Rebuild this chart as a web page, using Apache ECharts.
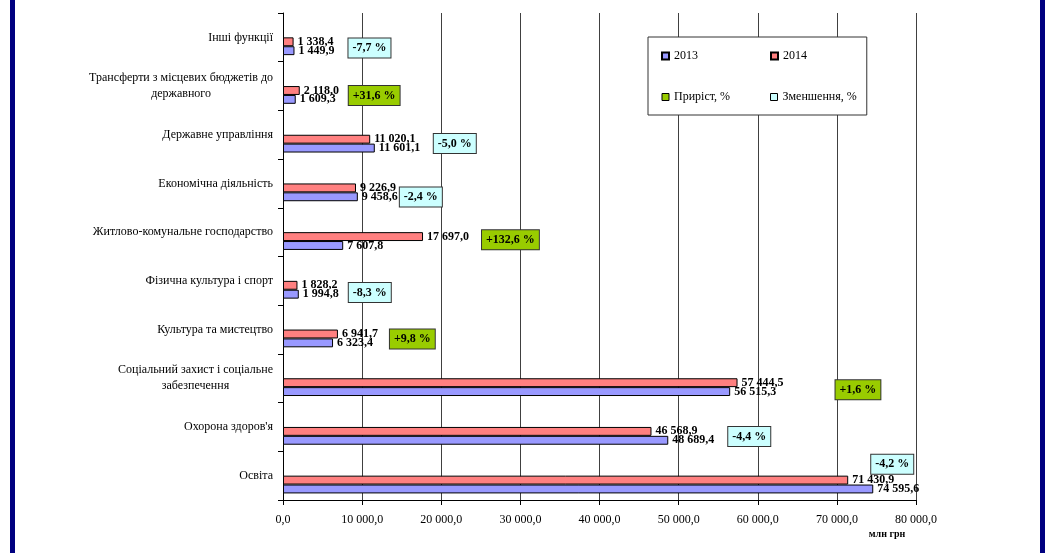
<!DOCTYPE html>
<html>
<head>
<meta charset="utf-8">
<script src="https://cdn.jsdelivr.net/npm/echarts@6/dist/echarts.min.js"></script>
<style>
html, body { margin: 0; padding: 0; background: #fff; }
#wrap { position: relative; width: 1050px; height: 553px; background: #fff; overflow: hidden; }
.edge { position: absolute; top: 0; width: 5px; height: 553px; background: #000080; }
#chart { position: absolute; left: 0; top: 0; width: 1050px; height: 553px; }
</style>
</head>
<body>
<div id="wrap">
    <div class="edge" style="left:10px"></div>
    <div class="edge" style="left:1040px"></div>
    <div id="chart"></div>
</div>
<script>
// categories from bottom to top
const categories = [
    'Освіта',
    "Охорона здоров'я",
    'Соціальний захист і соціальне\nзабезпечення',
    'Культура та мистецтво',
    'Фізична культура і спорт',
    'Житлово-комунальне господарство',
    'Економічна діяльність',
    'Державне управління',
    'Трансферти з місцевих бюджетів до\nдержавного',
    'Інші функції'
];
const values2013 = [74595.6, 48689.4, 56515.3, 6323.4, 1994.8, 7607.8, 9458.6, 11601.1, 1609.3, 1449.9];
const values2014 = [71430.9, 46568.9, 57444.5, 6941.7, 1828.2, 17697.0, 9226.9, 11020.1, 2118.0, 1338.4];
const changePct = [-4.2, -4.4, 1.6, 9.8, -8.3, 132.6, -2.4, -5.0, 31.6, -7.7];
const axisMin = 0, axisMax = 80000, axisStep = 10000;

// where the % boxes sit, in px from the end of the longer bar
const pctShift = [[-2, 2], [60, 23], [98, 16], [52, 14], [50, 25], [59, 12], [42, 27], [59, 22], [49, 14], [54, 24]];

const serif = 'Liberation Serif, Times New Roman, serif';

function fmtNum(v) {
    let s = v.toFixed(1).split('.');
    let intPart = s[0].replace(/\B(?=(\d{3})+(?!\d))/g, ' ');
    return intPart + ',' + s[1];
}
function fmtPct(v) {
    return (v > 0 ? '+' : '') + v.toFixed(1).replace('.', ',') + ' %';
}

function pctData(positive) {
    return categories.map((c, i) => {
        if ((changePct[i] > 0) !== positive) return '-';
        return {
            value: Math.max(values2013[i], values2014[i]),
            label: { offset: pctShift[i] }
        };
    });
}

const pctLabel = (bg) => ({
    show: true,
    position: 'right',
    distance: 0,
    formatter: p => fmtPct(changePct[p.dataIndex]),
    fontFamily: serif,
    fontSize: 12,
    fontWeight: 'bold',
    color: '#000',
    backgroundColor: bg,
    borderColor: '#333',
    borderWidth: 1,
    padding: [3, 4, 3, 4],
    lineHeight: 13
});

const valueLabel = {
    show: true,
    position: 'right',
    distance: 4,
    formatter: p => fmtNum(p.value),
    fontFamily: serif,
    fontSize: 12,
    fontWeight: 'bold',
    color: '#000'
};

const chart = echarts.init(document.getElementById('chart'));
chart.setOption({
    animation: false,
    backgroundColor: 'transparent',
    grid: { left: 283, right: 134, top: 13, bottom: 53 },
    legend: {
        left: 648,
        top: 37,
        orient: 'horizontal',
        width: 200,
        padding: [12, 10, 11, 13],
        itemGap: 27,
        itemWidth: 7,
        itemHeight: 7,
        icon: 'rect',
        backgroundColor: '#fff',
        borderColor: '#333',
        borderWidth: 1,
        borderRadius: 0,
        textStyle: { fontFamily: serif, fontSize: 12, color: '#000', width: 69, lineHeight: 14 },
        data: [
            { name: '2013' },
            { name: '2014' },
            { name: 'Приріст, %', itemStyle: { color: '#99cc00', borderColor: '#000', borderWidth: 1 } },
            { name: 'Зменшення, %', itemStyle: { color: '#ccffff', borderColor: '#000', borderWidth: 1 } }
        ]
    },
    xAxis: {
        type: 'value',
        min: axisMin,
        max: axisMax,
        interval: axisStep,
        name: 'млн грн',
        nameLocation: 'end',
        nameGap: -29,
        nameTextStyle: {
            fontFamily: serif, fontSize: 10, fontWeight: 'bold', color: '#000',
            align: 'center', verticalAlign: 'top', padding: [29, 0, 0, 0]
        },
        axisLine: { show: true, lineStyle: { color: '#000', width: 1 } },
        axisTick: { show: true, length: 5, lineStyle: { color: '#000' } },
        axisLabel: { margin: 14, fontFamily: serif, fontSize: 12, color: '#000', formatter: v => fmtNum(v) },
        splitLine: { show: true, lineStyle: { color: '#404040', width: 1 } }
    },
    yAxis: {
        type: 'category',
        data: categories,
        axisLine: { show: true, lineStyle: { color: '#000', width: 1 } },
        axisTick: { show: true, length: 5, alignWithLabel: false, lineStyle: { color: '#000' } },
        axisLabel: {
            margin: 10,
            color: '#000',
            fontFamily: serif,
            fontSize: 12,
            formatter: v => v.split('\n').map(s => '{c|' + s + '}').join('\n'),
            rich: { c: { align: 'center', fontFamily: serif, fontSize: 12, color: '#000', lineHeight: 16 } }
        },
        splitLine: { show: false }
    },
    series: [
        {
            name: 'Зменшення, %',
            type: 'bar',
            barGap: '0%',
            barCategoryGap: '27%',
            itemStyle: { color: 'rgba(0,0,0,0)' },
            label: pctLabel('#ccffff'),
            data: pctData(false),
            z: 5
        },
        {
            name: 'Приріст, %',
            type: 'bar',
            itemStyle: { color: 'rgba(0,0,0,0)' },
            label: pctLabel('#99cc00'),
            data: pctData(true),
            z: 5
        },
        {
            name: '2014',
            type: 'bar',
            itemStyle: { color: '#ff8080', borderColor: '#000', borderWidth: 1 },
            label: valueLabel,
            data: values2014
        },
        {
            name: '2013',
            type: 'bar',
            itemStyle: { color: '#9999ff', borderColor: '#000', borderWidth: 1 },
            label: valueLabel,
            data: values2013
        }
    ]
});
</script>
</body>
</html>
